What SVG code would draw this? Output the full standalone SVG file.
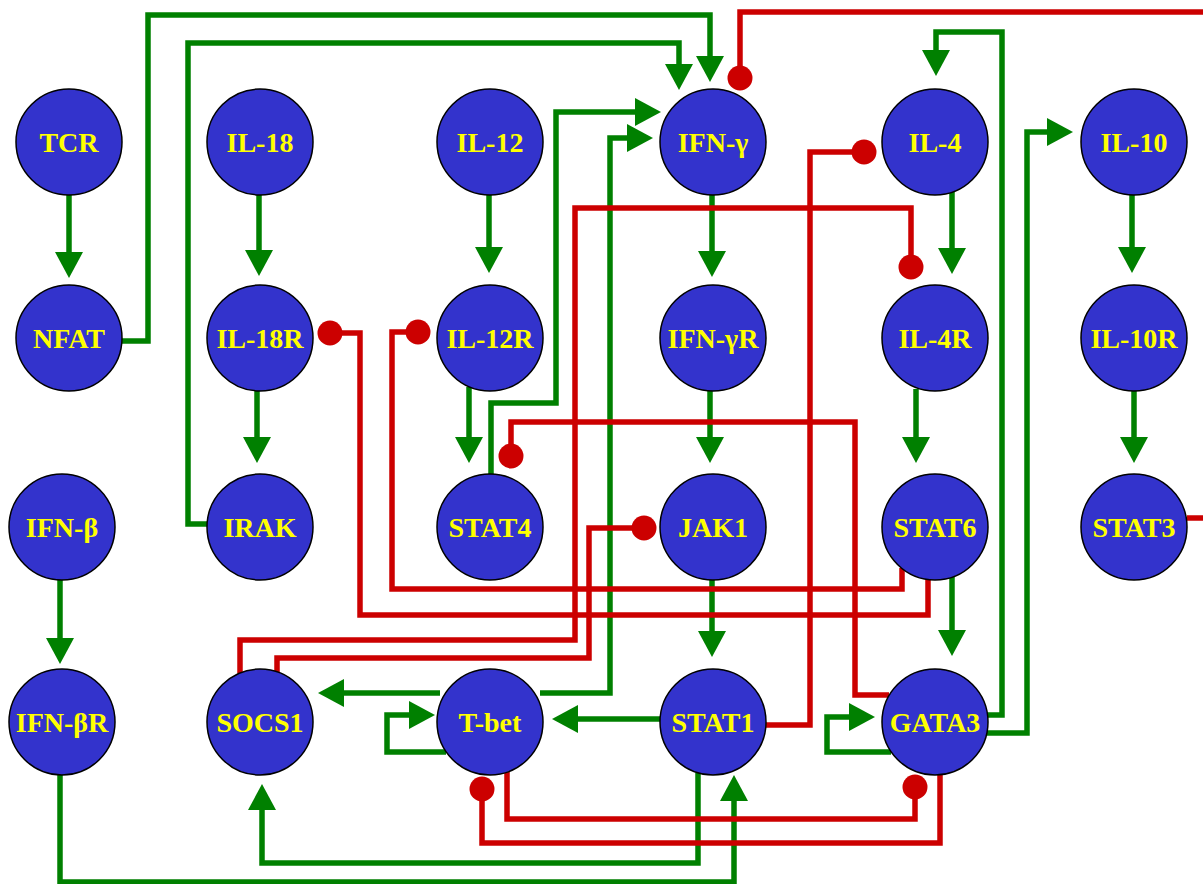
<svg xmlns="http://www.w3.org/2000/svg" width="1203" height="884" viewBox="0 0 1203 884">
<defs>
<style>
.g{fill:none;stroke:#008000;stroke-width:5.5;marker-end:url(#arr)}
.r{fill:none;stroke:#CC0000;stroke-width:5.5;marker-end:url(#inh)}
.n circle{fill:#3333CC;stroke:#000;stroke-width:1.5}
.n text{fill:#FFFF00;font-family:"Liberation Serif","Times New Roman",serif;font-weight:bold;font-size:28px;text-anchor:middle}
</style>
<marker id="arr" markerUnits="userSpaceOnUse" viewBox="0 0 26 28" refX="0" refY="14" markerWidth="26" markerHeight="28" orient="auto">
<path d="M0,0 L26,14 L0,28 Z" fill="#008000"/>
</marker>
<marker id="inh" markerUnits="userSpaceOnUse" viewBox="-13 -13 26 26" refX="0" refY="0" markerWidth="26" markerHeight="26" orient="auto">
<circle cx="0" cy="0" r="12.5" fill="#CC0000"/>
</marker>
</defs>
<rect width="1203" height="884" fill="#fff"/>
<g id="connectors">
<path class="g" d="M69,195 V252"/>
<path class="g" d="M259,195 V250"/>
<path class="g" d="M489,195 V247"/>
<path class="g" d="M712,195 V251"/>
<path class="g" d="M952,192 V248"/>
<path class="g" d="M1132,195 V247"/>
<path class="g" d="M257,391 V437"/>
<path class="g" d="M469,387 V437"/>
<path class="g" d="M710,391 V437"/>
<path class="g" d="M916,389 V437"/>
<path class="g" d="M1134,391 V437"/>
<path class="g" d="M60,579 V638"/>
<path class="g" d="M712,580 V631"/>
<path class="g" d="M952,577 V630"/>
<path class="g" d="M660,719 H578"/>
<path class="g" d="M440,693 H344"/>
<path class="g" d="M540,693 H610 V138 H627"/>
<path class="g" d="M446,752 H387 V715 H409"/>
<path class="g" d="M891,752 H827 V717 H849"/>
<path class="g" d="M698,773 V863 H262 V810"/>
<path class="g" d="M60,775 V882 H734 V801"/>
<path class="g" d="M987,715 H1002 V32 H936 V50"/>
<path class="g" d="M987,733 H1027 V132 H1047"/>
<path class="g" d="M122,341 H148 V15 H710 V56"/>
<path class="g" d="M207,524 H188 V43 H679 V64"/>
<path class="g" d="M491,474 V403 H556 V112 H635"/>
<path class="r" d="M1187,518 H1215 V12 H740 V78"/>
<path class="r" d="M766,725 H810 V152 H864"/>
<path class="r" d="M240,673 V640 H575 V208 H911 V267"/>
<path class="r" d="M277,672 V658 H589 V528 H644"/>
<path class="r" d="M928,579 V615 H360 V333 H330"/>
<path class="r" d="M902,568 V589 H392 V332 H418"/>
<path class="r" d="M889,695 H855 V422 H511 V456"/>
<path class="r" d="M507,772 V819 H915 V787"/>
<path class="r" d="M940,775 V843 H482 V789"/>
</g>
<g id="nodes">
<g class="n" id="TCR"><circle cx="69" cy="142" r="53"/><text x="69" y="152">TCR</text></g>
<g class="n" id="IL-18"><circle cx="260" cy="142" r="53"/><text x="260" y="152">IL-18</text></g>
<g class="n" id="IL-12"><circle cx="490" cy="142" r="53"/><text x="490" y="152">IL-12</text></g>
<g class="n" id="IFN-g"><circle cx="713" cy="142" r="53"/><text x="713" y="152">IFN-γ</text></g>
<g class="n" id="IL-4"><circle cx="935" cy="142" r="53"/><text x="935" y="152">IL-4</text></g>
<g class="n" id="IL-10"><circle cx="1134" cy="142" r="53"/><text x="1134" y="152">IL-10</text></g>
<g class="n" id="NFAT"><circle cx="69" cy="338" r="53"/><text x="69" y="348">NFAT</text></g>
<g class="n" id="IL-18R"><circle cx="260" cy="338" r="53"/><text x="260" y="348">IL-18R</text></g>
<g class="n" id="IL-12R"><circle cx="490" cy="338" r="53"/><text x="490" y="348">IL-12R</text></g>
<g class="n" id="IFN-gR"><circle cx="713" cy="338" r="53"/><text x="713" y="348">IFN-γR</text></g>
<g class="n" id="IL-4R"><circle cx="935" cy="338" r="53"/><text x="935" y="348">IL-4R</text></g>
<g class="n" id="IL-10R"><circle cx="1134" cy="338" r="53"/><text x="1134" y="348">IL-10R</text></g>
<g class="n" id="IFN-b"><circle cx="62" cy="527" r="53"/><text x="62" y="537">IFN-β</text></g>
<g class="n" id="IRAK"><circle cx="260" cy="527" r="53"/><text x="260" y="537">IRAK</text></g>
<g class="n" id="STAT4"><circle cx="490" cy="527" r="53"/><text x="490" y="537">STAT4</text></g>
<g class="n" id="JAK1"><circle cx="713" cy="527" r="53"/><text x="713" y="537">JAK1</text></g>
<g class="n" id="STAT6"><circle cx="935" cy="527" r="53"/><text x="935" y="537">STAT6</text></g>
<g class="n" id="STAT3"><circle cx="1134" cy="527" r="53"/><text x="1134" y="537">STAT3</text></g>
<g class="n" id="IFN-bR"><circle cx="62" cy="722" r="53"/><text x="62" y="732">IFN-βR</text></g>
<g class="n" id="SOCS1"><circle cx="260" cy="722" r="53"/><text x="260" y="732">SOCS1</text></g>
<g class="n" id="T-bet"><circle cx="490" cy="722" r="53"/><text x="490" y="732">T-bet</text></g>
<g class="n" id="STAT1"><circle cx="713" cy="722" r="53"/><text x="713" y="732">STAT1</text></g>
<g class="n" id="GATA3"><circle cx="935" cy="722" r="53"/><text x="935" y="732">GATA3</text></g>
</g>
</svg>
